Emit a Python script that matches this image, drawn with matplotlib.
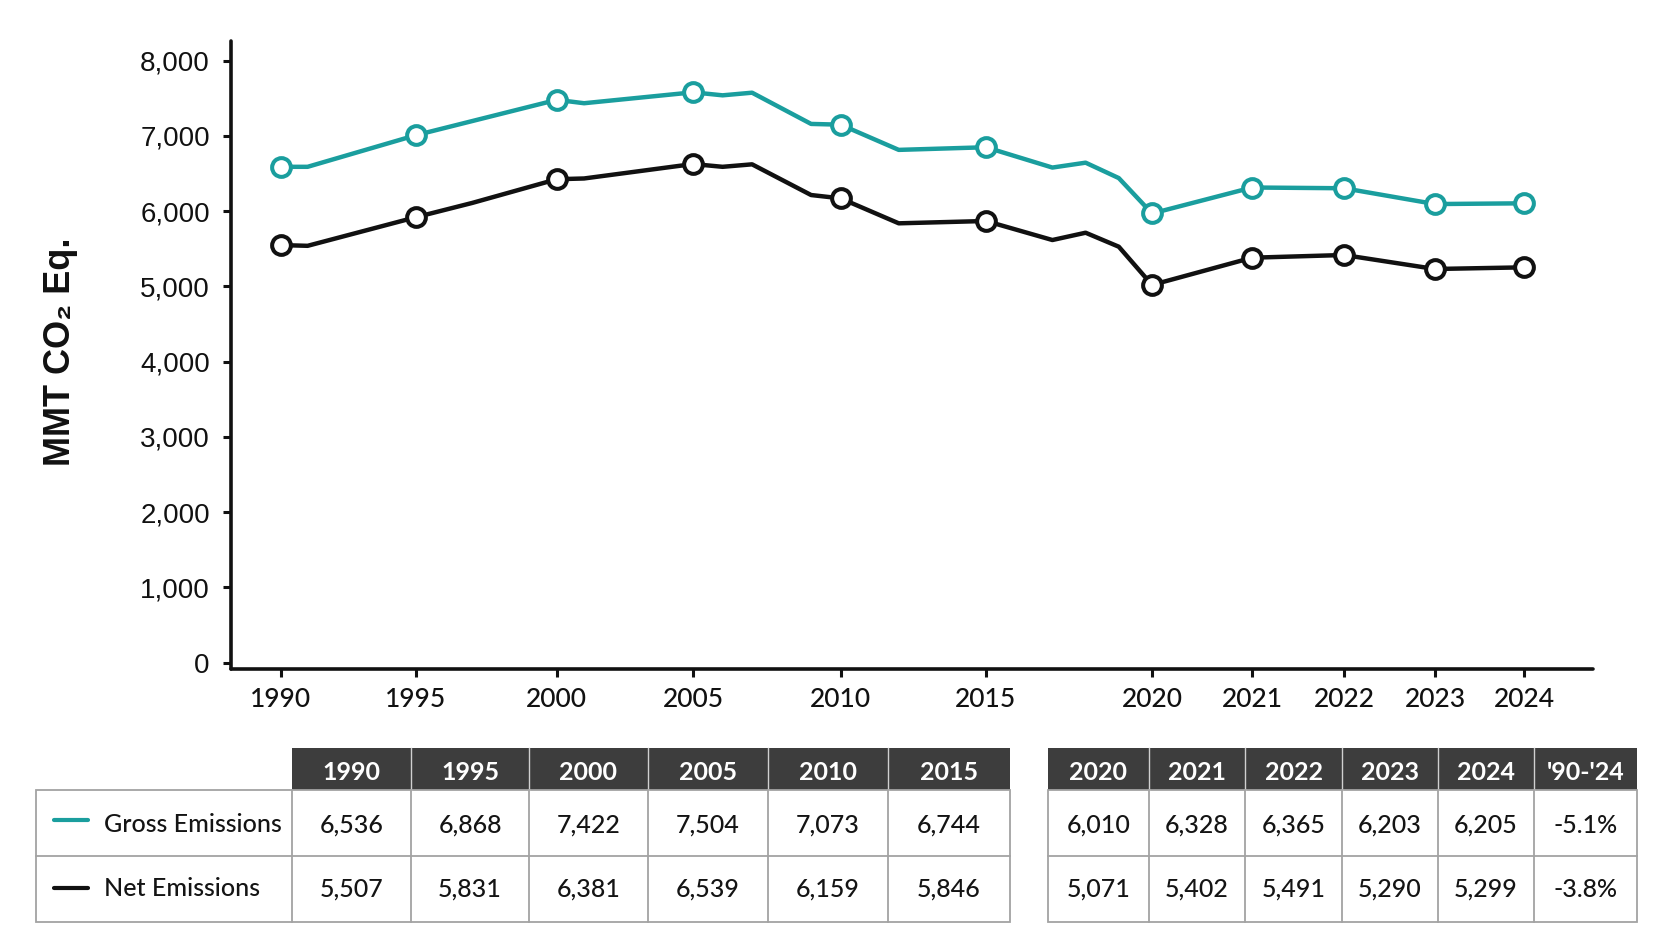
import numpy as np
import matplotlib
matplotlib.use("Agg")
import matplotlib.pyplot as plt
from matplotlib.patches import Rectangle
from matplotlib.lines import Line2D
from matplotlib.ticker import FuncFormatter, FixedLocator

# ---------------- data ----------------
gross_years = [1990, 1991, 1995, 2000, 2001, 2005, 2006, 2007, 2009, 2010, 2012,
               2015, 2017, 2018, 2019, 2020, 2021, 2022, 2023, 2024]
gross_line = [6590, 6590, 7010, 7480, 7435, 7580, 7540, 7575, 7160, 7150, 6815,
              6850, 6580, 6645, 6440, 5970, 6315, 6305, 6095, 6105]
net_years = [1990, 1991, 1995, 1997, 2000, 2001, 2005, 2006, 2007, 2009, 2010, 2012,
             2015, 2017, 2018, 2019, 2020, 2021, 2022, 2023, 2024]
net_line = [5550, 5540, 5920, 6110, 6425, 6435, 6627, 6590, 6623, 6215, 6171, 5839,
            5870, 5617, 5714, 5528, 5020, 5382, 5418, 5232, 5254]
marker_years = [1990, 1995, 2000, 2005, 2010, 2015, 2020, 2021, 2022, 2023, 2024]
tick_years = [1990, 1995, 2000, 2005, 2010, 2015, 2020, 2021, 2022, 2023, 2024]
y_ticks = [0, 1000, 2000, 3000, 4000, 5000, 6000, 7000, 8000]

left_headers = ["1990", "1995", "2000", "2005", "2010", "2015"]
gross_left = [6536, 6868, 7422, 7504, 7073, 6744]
net_left = [5507, 5831, 6381, 6539, 6159, 5846]
right_headers = ["2020", "2021", "2022", "2023", "2024", "'90-'24"]
gross_right = [6010, 6328, 6365, 6203, 6205]
net_right = [5071, 5402, 5491, 5290, 5299]
change_gross = "-5.1%"
change_net = "-3.8%"
series_names = ["Gross Emissions", "Net Emissions"]

TEAL = "#1a9e9e"
BLACK = "#111111"

# non-uniform x axis: fractional position of each labelled year along the axis
axis_stops = [0.0366, 0.1359, 0.2394, 0.3394, 0.4477, 0.5544,
              0.6763, 0.7497, 0.8172, 0.8840, 0.9494]

ty = np.array(tick_years, float)
tp = np.array(axis_stops, float)


def _pw(x, xs, ys):
    x = np.asarray(x, float)
    y = np.interp(x, xs, ys)
    s0 = (ys[1] - ys[0]) / (xs[1] - xs[0])
    s1 = (ys[-1] - ys[-2]) / (xs[-1] - xs[-2])
    y = np.where(x < xs[0], ys[0] + (x - xs[0]) * s0, y)
    y = np.where(x > xs[-1], ys[-1] + (x - xs[-1]) * s1, y)
    return y


def fwd(x):
    return _pw(x, ty, tp)


def inv(p):
    return _pw(p, tp, ty)


W, H = 1659, 948
fig = plt.figure(figsize=(W / 100, H / 100), dpi=100)
fig.patch.set_facecolor("white")

# ---------------- chart ----------------
ax_l, ax_r, ax_t, ax_b = 230.7, 1593, 40.7, 668.7
ax = fig.add_axes([ax_l / W, 1 - ax_b / H, (ax_r - ax_l) / W, (ax_b - ax_t) / H])
ax.set_xscale("function", functions=(fwd, inv))
ax.set_xlim(float(inv(0.0)), float(inv(1.0)))
ax.set_ylim(-80, 8266)

g_mark = [gross_years.index(y) for y in marker_years]
n_mark = [net_years.index(y) for y in marker_years]
ax.plot(gross_years, gross_line, color=TEAL, lw=3.2, marker="o", markevery=g_mark,
        ms=13.5, mfc="white", mec=TEAL, mew=2.9, solid_joinstyle="round", zorder=3)
ax.plot(net_years, net_line, color=BLACK, lw=3.2, marker="o", markevery=n_mark,
        ms=13.5, mfc="white", mec=BLACK, mew=2.9, solid_joinstyle="round", zorder=3)

for s in ["top", "right"]:
    ax.spines[s].set_visible(False)
for s in ["left", "bottom"]:
    ax.spines[s].set_linewidth(2.6)
    ax.spines[s].set_color(BLACK)
    ax.spines[s].set_capstyle("round")

ax.xaxis.set_major_locator(FixedLocator(tick_years))
ax.xaxis.set_minor_locator(FixedLocator([]))
ax.xaxis.set_major_formatter(FuncFormatter(lambda v, p: f"{int(round(v))}"))
ax.yaxis.set_major_locator(FixedLocator(y_ticks))
ax.yaxis.set_major_formatter(FuncFormatter(lambda v, p: f"{int(v):,}"))

ax.tick_params(axis="y", direction="out", length=6, width=2.2, color=BLACK, pad=9,
               labelsize=20, labelcolor=BLACK)
ax.tick_params(axis="x", direction="out", length=6, width=2.2, color=BLACK, pad=7,
               labelsize=18, labelcolor=BLACK)
for lab in ax.get_yticklabels():
    lab.set_fontfamily(["Liberation Sans", "DejaVu Sans"])
for lab in ax.get_xticklabels():
    lab.set_fontfamily(["Lato", "Liberation Sans", "DejaVu Sans"])
    lab.set_fontweight("medium")
    lab.set_fontsize(19)

fig.text(60 / W, 1 - 352 / H, "MMT CO\u2082 Eq.", rotation=90, ha="center", va="center",
         fontsize=26, fontweight="bold", color=BLACK,
         family=["Liberation Sans", "DejaVu Sans"])

# ---------------- tables ----------------
tax = fig.add_axes([0, 0, 1, 1], zorder=0)
tax.set_xlim(0, W)
tax.set_ylim(H, 0)
tax.axis("off")
tax.patch.set_alpha(0)

HEAD_BG = "#3d3d3d"
GRID = "#a3a3a3"
TXT = "#141414"
TFONT = ["Lato", "Open Sans", "DejaVu Sans"]
FS = 18

y_head_top, y_head_bot, y_mid, y_bot = 748, 790, 856, 922
base_head, base_r1, base_r2 = 780.5, 833, 897

left_edges = [36, 292, 411, 529, 648, 768, 888, 1010]
right_edges = [1048, 1149, 1245, 1342, 1438, 1534, 1637]


def draw_table(edges, headers, row1, row2, label_col):
    x0 = edges[1] if label_col else edges[0]
    tax.add_patch(Rectangle((x0, y_head_top), edges[-1] - x0, y_head_bot - y_head_top,
                            facecolor=HEAD_BG, edgecolor="none", zorder=1))
    start = 2 if label_col else 1
    for e in edges[start:-1]:
        tax.add_line(Line2D([e, e], [y_head_top, y_head_bot], color="#d0d0d0", lw=1.0, zorder=2))
    tax.add_patch(Rectangle((edges[0], y_head_bot), edges[-1] - edges[0], y_bot - y_head_bot,
                            facecolor="white", edgecolor=GRID, lw=1.3, zorder=1))
    tax.add_line(Line2D([edges[0], edges[-1]], [y_mid, y_mid], color=GRID, lw=1.3, zorder=2))
    for e in edges[1:-1]:
        tax.add_line(Line2D([e, e], [y_head_bot, y_bot], color=GRID, lw=1.3, zorder=2))
    data_edges = edges[1:] if label_col else edges
    for i, h in enumerate(headers):
        cx = (data_edges[i] + data_edges[i + 1]) / 2
        tax.text(cx, base_head, h, ha="center", va="baseline", color="white",
                 fontsize=FS, fontweight="bold", family=TFONT, zorder=3)
        tax.text(cx, base_r1, row1[i], ha="center", va="baseline", color=TXT,
                 fontsize=FS, fontweight="medium", family=TFONT, zorder=3)
        tax.text(cx, base_r2, row2[i], ha="center", va="baseline", color=TXT,
                 fontsize=FS, fontweight="medium", family=TFONT, zorder=3)


draw_table(left_edges, left_headers,
           [f"{v:,}" for v in gross_left], [f"{v:,}" for v in net_left], True)
draw_table(right_edges, right_headers,
           [f"{v:,}" for v in gross_right] + [change_gross],
           [f"{v:,}" for v in net_right] + [change_net], False)

# legend in label column
for yy, col, name, base in [(820, TEAL, series_names[0], base_r1 - 1),
                            (888, BLACK, series_names[1], base_r2 - 1)]:
    tax.add_line(Line2D([54, 88], [yy, yy], color=col, lw=3.0,
                        solid_capstyle="round", zorder=3))
    tax.text(104, base, name, ha="left", va="baseline", color=TXT,
             fontsize=FS, fontweight="medium", family=TFONT, zorder=3)

fig.savefig("out.png", dpi=100, facecolor="white")
